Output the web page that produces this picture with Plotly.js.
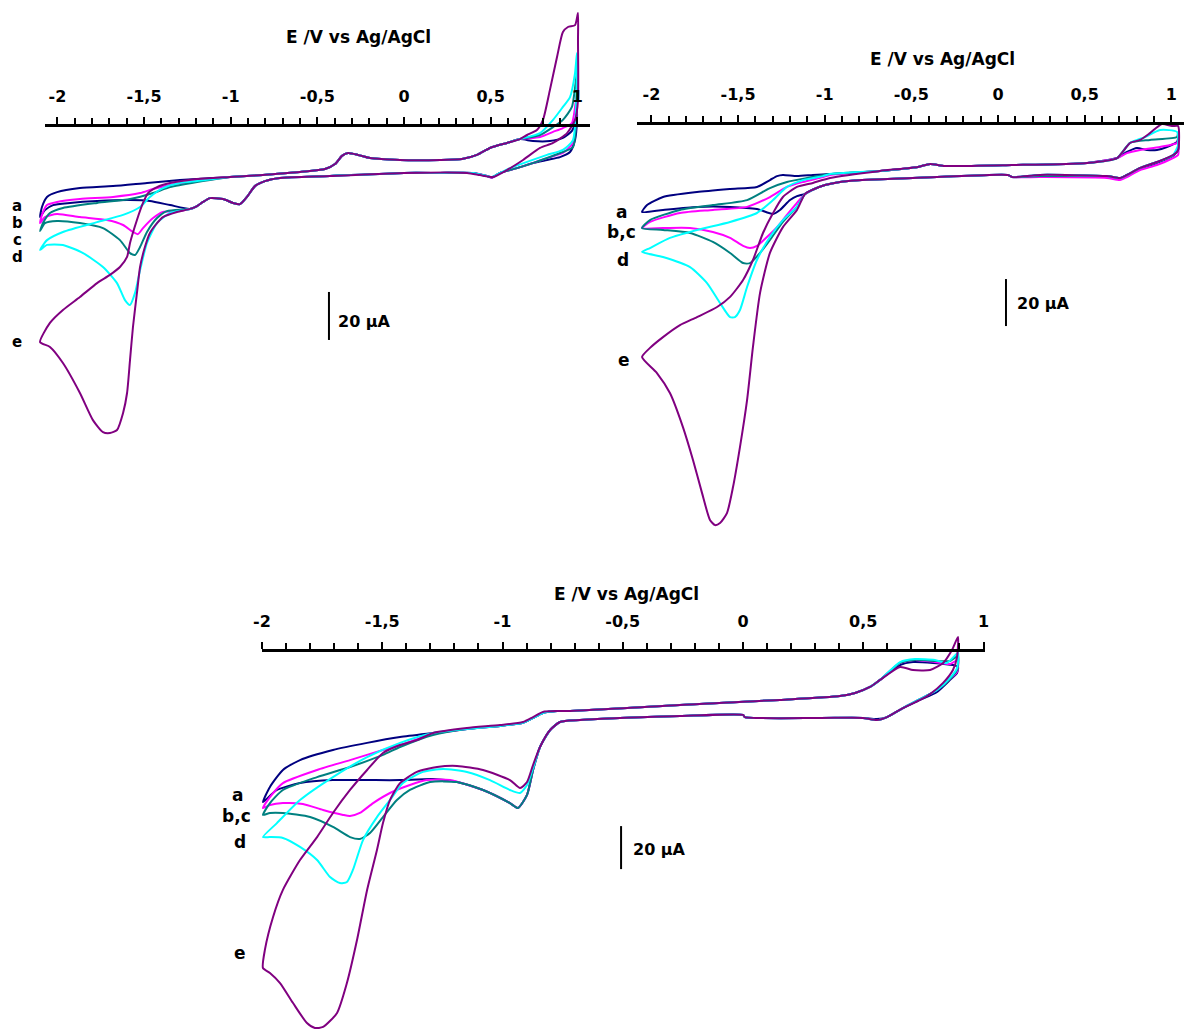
<!DOCTYPE html>
<html><head><meta charset="utf-8">
<script src="https://cdn.plot.ly/plotly-3.0.1.min.js"></script>
<style>html,body{margin:0;padding:0;background:#fff}#chart{width:1184px;height:1029px}</style>
</head><body><div id="chart"></div>
<script>
// ---------- Data: potential E (V vs Ag/AgCl) and current I (µA), in sweep order ----------
// Panel 1 (top left)
const p1_a_E = [0, -0.427, -0.716, -0.802, -0.860, -0.906, -0.946, -0.987, -1.044, -1.119, -1.160, -1.194, -1.235, -1.350, -1.466, -1.581, -1.771, -1.927, -2.025, -2.072, -2.100, -2.089, -2.060, -2.002, -1.870, -1.679, -1.483, -1.293, -1.004, -0.814, -0.600, -0.456, -0.398, -0.358, -0.323, -0.265, -0.196, -0.023, 0.208, 0.335, 0.421, 0.496, 0.594, 0.669, 0.744, 0.842, 0.917, 0.969, 0.993, 0.998, 0.998, 0.987, 0.958, 0.900, 0.825, 0.744, 0.652, 0.554, 0.508, 0.479, 0.398, 0.208, 0];
const p1_a_I = [-3.3, -4.6, -5.4, -6.7, -8.8, -13.3, -16.3, -15.8, -14.2, -13.8, -15.4, -17.1, -18.3, -16.7, -15, -14.6, -15, -15.8, -16.7, -18.8, -21.7, -17.5, -13.3, -11.3, -9.6, -8.8, -7.5, -6.3, -5, -4.2, -2.9, -1.7, 0.4, 3.8, 5, 4.2, 2.9, 2.1, 2.1, 2.5, 4.2, 7.1, 9.2, 10.8, 10, 10, 11.3, 14.2, 19.6, 23.8, 17.9, 10.4, 5.4, 3.3, 2.1, 0.8, -1.3, -3.3, -5, -4.6, -3.3, -3.3, -3.3];
const p1_b_E = [0, -0.427, -0.716, -0.802, -0.860, -0.906, -0.946, -0.987, -1.044, -1.119, -1.160, -1.194, -1.235, -1.310, -1.391, -1.448, -1.506, -1.535, -1.564, -1.621, -1.714, -1.870, -2.002, -2.072, -2.100, -2.089, -2.060, -2.002, -1.870, -1.679, -1.523, -1.448, -1.350, -1.194, -1.004, -0.814, -0.600, -0.456, -0.398, -0.358, -0.323, -0.265, -0.196, -0.023, 0.208, 0.335, 0.421, 0.496, 0.594, 0.669, 0.785, 0.860, 0.917, 0.969, 0.998, 0.998, 0.975, 0.917, 0.842, 0.744, 0.652, 0.554, 0.508, 0.479, 0.398, 0.208, 0];
const p1_b_I = [-3.3, -4.6, -5.4, -6.7, -8.8, -13.3, -16.3, -15.8, -14.2, -13.8, -15.4, -17.1, -18.3, -19.2, -19.6, -22.1, -26.3, -28.8, -27.9, -25, -22.9, -21.7, -20.4, -21.7, -24.2, -20.8, -16.7, -15.4, -14.2, -13.3, -11.7, -10, -8.3, -6.7, -5, -4.2, -2.9, -1.7, 0.4, 3.8, 5, 4.2, 2.9, 2.1, 2.1, 2.5, 4.2, 7.1, 9.2, 10.8, 11.7, 13.8, 15.4, 17.5, 30.4, 22.9, 9.2, 5, 3.3, 0.8, -1.3, -3.3, -5.4, -4.6, -3.3, -3.3, -3.3];
const p1_c_E = [0, -0.427, -0.716, -0.802, -0.860, -0.906, -0.946, -0.987, -1.044, -1.119, -1.160, -1.194, -1.235, -1.368, -1.425, -1.483, -1.523, -1.552, -1.581, -1.639, -1.737, -1.870, -2.002, -2.072, -2.100, -2.083, -2.043, -1.968, -1.771, -1.581, -1.448, -1.350, -1.194, -1.004, -0.814, -0.600, -0.456, -0.398, -0.358, -0.323, -0.265, -0.196, -0.023, 0.208, 0.335, 0.421, 0.496, 0.594, 0.669, 0.785, 0.860, 0.917, 0.969, 0.998, 0.998, 0.975, 0.900, 0.825, 0.744, 0.652, 0.554, 0.508, 0.479, 0.398, 0.208, 0];
const p1_c_I = [-3.3, -4.6, -5.4, -6.7, -8.8, -13.3, -16.3, -15.8, -14.2, -13.8, -15.4, -17.1, -18.3, -19.2, -22.1, -27.9, -34.2, -37.5, -36.7, -31.3, -26.3, -24.2, -23.3, -24.2, -27.5, -24.2, -20, -17.9, -15.8, -14.2, -11.7, -9.2, -7.1, -5, -4.2, -2.9, -1.7, 0.4, 3.8, 5, 4.2, 2.9, 2.1, 2.1, 2.5, 4.2, 7.1, 9.2, 10.8, 12.5, 15.8, 18.8, 24.2, 38.3, 29.2, 7.5, 5, 2.9, 0.8, -1.3, -3.3, -5.2, -4.6, -3.3, -3.3, -3.3];
const p1_d_E = [0, -0.427, -0.716, -0.802, -0.860, -0.906, -0.946, -0.987, -1.044, -1.119, -1.160, -1.194, -1.235, -1.275, -1.350, -1.425, -1.483, -1.523, -1.552, -1.581, -1.610, -1.656, -1.737, -1.852, -1.968, -2.060, -2.100, -2.060, -1.968, -1.771, -1.621, -1.523, -1.466, -1.391, -1.293, -1.194, -1.004, -0.814, -0.600, -0.456, -0.398, -0.358, -0.323, -0.265, -0.196, -0.023, 0.208, 0.335, 0.421, 0.496, 0.594, 0.669, 0.785, 0.860, 0.917, 0.958, 0.987, 0.998, 0.998, 0.975, 0.917, 0.825, 0.710, 0.612, 0.554, 0.508, 0.479, 0.398, 0.208, 0];
const p1_d_I = [-3.3, -4.6, -5.4, -6.7, -8.8, -13.3, -16.3, -15.8, -14.2, -13.8, -15.4, -17.1, -18.3, -18.8, -20, -24.2, -32.5, -43.8, -53.3, -58.3, -56.3, -49.2, -42.5, -36.7, -33.3, -33.3, -35.4, -31.3, -27.9, -23.8, -20.8, -17.5, -13.3, -9.6, -7.5, -6.7, -5, -4.2, -2.9, -1.7, 0.4, 3.8, 5, 4.2, 2.9, 2.1, 2.1, 2.5, 4.2, 7.1, 9.2, 10.8, 13.3, 18.8, 24.2, 28.3, 38.3, 46.7, 39.6, 10.4, 6.3, 4.2, 1.3, -1.3, -3.3, -5, -4.6, -3.3, -3.3, -3.3];
const p1_e_E = [0, -0.427, -0.716, -0.802, -0.860, -0.906, -0.946, -0.987, -1.044, -1.119, -1.160, -1.194, -1.235, -1.310, -1.391, -1.425, -1.466, -1.495, -1.523, -1.541, -1.564, -1.581, -1.598, -1.621, -1.656, -1.697, -1.737, -1.795, -1.870, -1.968, -2.043, -2.100, -2.043, -1.968, -1.870, -1.771, -1.697, -1.639, -1.598, -1.581, -1.541, -1.506, -1.477, -1.425, -1.350, -1.194, -1.004, -0.814, -0.600, -0.456, -0.398, -0.358, -0.323, -0.265, -0.196, -0.023, 0.208, 0.335, 0.421, 0.496, 0.594, 0.669, 0.710, 0.767, 0.802, 0.842, 0.883, 0.917, 0.946, 0.987, 1.004, 1.004, 1.004, 0.987, 0.941, 0.860, 0.785, 0.687, 0.594, 0.514, 0.439, 0.364, 0];
const p1_e_I = [-3.3, -4.6, -5.4, -6.7, -8.8, -13.3, -16.3, -15.8, -14.2, -13.8, -15.4, -17.1, -18.3, -19.6, -21.7, -24.2, -28.3, -34.2, -42.5, -53.3, -67.5, -81.3, -95, -103.3, -110.4, -111.7, -111.3, -106.3, -95, -82.5, -75.8, -73.8, -65.8, -60.4, -55, -49.2, -45.8, -42.5, -38.3, -32.5, -22.9, -15.8, -11.7, -9.2, -7.5, -5.8, -5, -4.2, -2.9, -1.7, 0.4, 3.8, 5, 4.2, 2.9, 2.1, 2.1, 2.5, 4.2, 7.1, 9.2, 10.8, 12.5, 14.6, 18.8, 31.3, 45, 55.4, 57.5, 58.3, 63.3, 52.1, 27.1, 18.8, 13.3, 9.2, 7.1, 2.1, -2.1, -5, -4.2, -3.3, -3.3];

// Panel 2 (top right)
const p2_a_E = [0.081, 0.058, -0.352, -0.785, -0.912, -0.998, -1.073, -1.114, -1.160, -1.200, -1.258, -1.298, -1.391, -1.546, -1.737, -1.933, -2.054, -2.025, -1.933, -1.737, -1.546, -1.391, -1.316, -1.275, -1.241, -1.160, -1.068, -0.969, -0.681, -0.462, -0.392, -0.306, 0.081, 0.514, 0.687, 0.744, 0.802, 0.860, 0.917, 0.975, 1.033, 1.039, 1.039, 1.010, 0.917, 0.820, 0.744, 0.704, 0.629, 0.242, 0.081];
const p2_a_I = [-3, -2.1, -3, -4.3, -5.1, -6.4, -8.5, -10.2, -11.1, -12.8, -17, -18.7, -16.6, -15.7, -15.7, -17, -17.9, -14.9, -11.5, -9.4, -8.1, -7.2, -4.3, -2.6, -2.1, -2.6, -2.1, -1.7, -0.4, 1.3, 2.6, 1.7, 2.1, 3, 5.1, 7.7, 9.4, 8.5, 8.5, 9.8, 11.9, 13.2, 8.5, 6, 3, 0.4, -2.1, -3.4, -2.6, -2.1, -3];
const p2_b_E = [0.081, 0.058, -0.352, -0.785, -0.912, -0.998, -1.073, -1.114, -1.160, -1.218, -1.275, -1.333, -1.391, -1.431, -1.471, -1.546, -1.645, -1.777, -1.933, -2.054, -2.008, -1.835, -1.645, -1.448, -1.316, -1.218, -1.125, -1.010, -0.969, -0.681, -0.462, -0.392, -0.306, 0.081, 0.514, 0.687, 0.744, 0.820, 0.935, 1.033, 1.039, 1.039, 1.010, 0.917, 0.820, 0.744, 0.704, 0.629, 0.242, 0.081];
const p2_b_I = [-3, -2.1, -3, -4.3, -5.1, -6.4, -8.5, -10.2, -14, -19.1, -24.3, -28.5, -32.3, -33.2, -32.3, -28.9, -26.4, -24.7, -24.7, -24.7, -22.1, -18.3, -17, -15.7, -11.5, -7.2, -5.1, -3, -2.1, -0.4, 1.3, 2.6, 1.7, 2.1, 3, 5.1, 7.2, 8.5, 9.8, 11.5, 12.8, 6.4, 5.1, 2.1, 0, -3, -4.3, -3.4, -3, -3];
const p2_c_E = [0.081, 0.058, -0.352, -0.785, -0.912, -0.998, -1.073, -1.114, -1.160, -1.241, -1.316, -1.373, -1.431, -1.471, -1.546, -1.645, -1.777, -1.933, -2.054, -2.008, -1.835, -1.645, -1.448, -1.316, -1.218, -1.102, -0.969, -0.681, -0.462, -0.392, -0.306, 0.081, 0.514, 0.687, 0.762, 0.877, 1.033, 1.039, 1.039, 1.004, 0.917, 0.820, 0.744, 0.704, 0.629, 0.242, 0.081];
const p2_c_I = [-3, -2.1, -3, -4.3, -5.1, -6.4, -8.5, -10.2, -15.7, -22.1, -29.8, -35.3, -39.6, -39.6, -35.3, -30.6, -26.8, -25.5, -24.7, -21.3, -17, -14.9, -12.8, -7.7, -5.1, -3.4, -1.7, -0.4, 1.3, 2.6, 1.7, 2.1, 3, 5.1, 11.5, 12.8, 14, 15.7, 8.5, 6, 3.4, 0.9, -2.1, -3.4, -2.6, -2.6, -3];
const p2_d_E = [0.081, 0.058, -0.352, -0.785, -0.912, -0.998, -1.073, -1.114, -1.160, -1.241, -1.316, -1.391, -1.448, -1.489, -1.518, -1.546, -1.604, -1.679, -1.777, -1.933, -2.054, -2.008, -1.893, -1.737, -1.546, -1.391, -1.298, -1.218, -1.125, -1.010, -0.969, -0.681, -0.462, -0.392, -0.306, 0.081, 0.514, 0.687, 0.762, 0.848, 0.935, 1.033, 1.039, 1.010, 0.917, 0.820, 0.744, 0.704, 0.629, 0.242, 0.081];
const p2_d_I = [-3, -2.1, -3, -4.3, -5.1, -6.4, -8.5, -10.2, -15.7, -21.3, -28.5, -38.3, -49.8, -59.6, -62.6, -62.6, -56.6, -48.1, -41.3, -37, -34.9, -33.2, -28.9, -25.5, -22.1, -18.3, -12.8, -7.2, -4.3, -2.6, -1.7, -0.4, 1.3, 2.6, 1.7, 2.1, 3, 5.1, 11.5, 14, 17, 16.2, 10.6, 6.4, 3.4, 0.9, -2.1, -3.4, -2.6, -2.1, -3];
const p2_e_E = [0.081, 0.058, -0.352, -0.785, -0.912, -0.998, -1.073, -1.114, -1.160, -1.241, -1.316, -1.373, -1.414, -1.448, -1.489, -1.529, -1.564, -1.604, -1.633, -1.662, -1.708, -1.760, -1.818, -1.893, -1.968, -2.054, -2.008, -1.933, -1.835, -1.737, -1.621, -1.546, -1.471, -1.414, -1.356, -1.298, -1.241, -1.160, -1.068, -0.969, -0.681, -0.462, -0.392, -0.306, 0.081, 0.514, 0.687, 0.762, 0.820, 0.877, 0.946, 1.004, 1.039, 1.039, 1.010, 0.917, 0.820, 0.744, 0.704, 0.629, 0.242, 0.081];
const p2_e_I = [-3, -2.1, -3, -4.3, -5.1, -6.4, -8.5, -10.2, -17, -24.3, -35.3, -52.3, -75.3, -97.9, -117.9, -134.9, -146, -150.2, -151.1, -148.9, -137.4, -123.4, -109.4, -94.9, -86.4, -79.6, -75.7, -71.1, -66, -62.6, -58.3, -54, -46.8, -38.3, -26.8, -18.3, -11.5, -7.2, -5.5, -3.4, -0.4, 1.3, 2.6, 1.7, 2.1, 3, 5.1, 11.5, 12.8, 15.7, 19.6, 18.7, 18.7, 8.5, 6.4, 3.4, 0.9, -2.1, -3.4, -2.6, -2.1, -3];

// Panel 3 (bottom)
const p3_a_E = [0.008, 0, -0.262, -0.678, -0.761, -0.802, -0.844, -0.873, -0.898, -0.936, -0.969, -1.081, -1.189, -1.289, -1.426, -1.563, -1.705, -1.842, -1.938, -1.996, -1.967, -1.913, -1.842, -1.705, -1.563, -1.426, -1.289, -1.148, -1.010, -0.915, -0.873, -0.832, -0.773, -0.719, -0.262, 0.154, 0.403, 0.466, 0.528, 0.570, 0.653, 0.707, 0.790, 0.873, 0.894, 0.890, 0.861, 0.807, 0.736, 0.665, 0.599, 0.557, 0.499, 0.320, 0.008];
const p3_a_I = [-3.3, -2.3, -2.8, -4.7, -5.6, -9.3, -17.2, -27.9, -39.5, -45.6, -43.3, -37.2, -33.5, -32.1, -32.6, -32.6, -32.6, -34, -37.2, -42.8, -35.8, -27.9, -23.3, -18.6, -15.3, -12.6, -10.7, -8.8, -7.4, -6, -3.7, -1.4, -0.5, -0.5, 2.3, 4.7, 6.5, 7.9, 10.7, 14, 20.9, 22.3, 21.9, 20.9, 20, 17.2, 14, 8.4, 4.7, 0.9, -3.3, -4.2, -3.7, -3.7, -3.3];
const p3_b_E = [0.008, 0, -0.262, -0.678, -0.761, -0.802, -0.844, -0.873, -0.898, -0.936, -0.969, -1.081, -1.218, -1.314, -1.385, -1.468, -1.538, -1.593, -1.634, -1.663, -1.746, -1.830, -1.913, -1.967, -1.996, -1.967, -1.913, -1.771, -1.634, -1.497, -1.426, -1.289, -1.148, -1.010, -0.915, -0.873, -0.832, -0.773, -0.719, -0.262, 0.154, 0.403, 0.466, 0.528, 0.570, 0.653, 0.715, 0.798, 0.861, 0.894, 0.890, 0.861, 0.807, 0.736, 0.665, 0.599, 0.557, 0.499, 0.320, 0.008];
const p3_b_I = [-3.3, -2.3, -2.8, -4.7, -5.6, -9.3, -17.2, -27.9, -39.5, -45.6, -43.3, -37.2, -32.6, -32.6, -34.9, -38.6, -43.3, -47.9, -49.3, -48.8, -46.5, -43.7, -43.3, -44.2, -45.6, -40.5, -34, -27.9, -23.3, -18.6, -16.3, -11.2, -8.8, -7.4, -6, -3.7, -1.4, -0.5, -0.5, 2.3, 4.7, 6.5, 7.9, 10.7, 14, 21.9, 23.3, 22.3, 21.4, 23.3, 17.7, 14.4, 9.3, 5.1, 0.9, -3.3, -4.7, -3.7, -3.7, -3.3];
const p3_c_E = [0.008, 0, -0.262, -0.678, -0.761, -0.802, -0.844, -0.873, -0.898, -0.936, -0.969, -1.081, -1.189, -1.301, -1.385, -1.439, -1.497, -1.551, -1.593, -1.634, -1.705, -1.800, -1.913, -1.967, -1.996, -1.967, -1.913, -1.771, -1.634, -1.497, -1.426, -1.289, -1.148, -1.010, -0.915, -0.873, -0.832, -0.773, -0.719, -0.262, 0.154, 0.403, 0.466, 0.528, 0.570, 0.653, 0.715, 0.798, 0.861, 0.894, 0.890, 0.861, 0.807, 0.736, 0.665, 0.599, 0.557, 0.499, 0.320, 0.008];
const p3_c_I = [-3.3, -2.3, -2.8, -4.7, -5.6, -9.3, -17.2, -27.9, -39.5, -45.6, -43.3, -37.2, -33.5, -33.5, -37.2, -41.9, -49.8, -57.2, -60, -59.1, -54.4, -49.8, -47.9, -47.9, -48.8, -43.3, -37.2, -31.2, -26.5, -20.9, -17.2, -11.6, -8.8, -7.4, -6, -3.7, -1.4, -0.5, -0.5, 2.3, 4.7, 6.5, 7.9, 10.7, 14, 21.9, 23.3, 22.8, 22.8, 25.1, 18.6, 14.4, 9.3, 5.1, 0.9, -3.3, -4.7, -3.7, -3.7, -3.3];
const p3_d_E = [0.008, 0, -0.262, -0.678, -0.761, -0.802, -0.844, -0.873, -0.898, -0.927, -0.969, -1.052, -1.148, -1.247, -1.331, -1.414, -1.468, -1.522, -1.580, -1.622, -1.647, -1.676, -1.717, -1.771, -1.842, -1.913, -1.967, -1.996, -1.938, -1.842, -1.705, -1.563, -1.426, -1.289, -1.148, -1.010, -0.915, -0.873, -0.832, -0.773, -0.719, -0.262, 0.154, 0.403, 0.466, 0.528, 0.570, 0.653, 0.715, 0.798, 0.848, 0.894, 0.890, 0.861, 0.807, 0.736, 0.665, 0.599, 0.557, 0.499, 0.320, 0.008];
const p3_d_I = [-3.3, -2.3, -2.8, -4.7, -5.6, -9.3, -17.2, -27, -34.9, -38.6, -37.2, -32.6, -28.8, -27.4, -28.8, -34, -41.9, -49.8, -60.5, -74.4, -80, -80.5, -77.7, -69.8, -63.7, -59.5, -59.1, -59.1, -52.6, -41.9, -31.2, -21.9, -15.3, -10.7, -8.8, -7.4, -6, -3.7, -1.4, -0.5, -0.5, 2.3, 4.7, 6.5, 7.9, 10.7, 14, 22.3, 23.7, 23.3, 21.9, 26.5, 19.5, 14.9, 9.3, 5.1, 0.9, -3.3, -4.7, -3.7, -3.7, -3.3];
const p3_e_E = [0.008, 0, -0.262, -0.678, -0.761, -0.802, -0.844, -0.873, -0.898, -0.927, -0.969, -1.081, -1.189, -1.272, -1.356, -1.426, -1.468, -1.497, -1.522, -1.563, -1.605, -1.647, -1.688, -1.746, -1.780, -1.813, -1.871, -1.925, -1.967, -1.996, -1.988, -1.954, -1.913, -1.842, -1.771, -1.705, -1.634, -1.563, -1.497, -1.426, -1.356, -1.289, -1.148, -1.010, -0.915, -0.873, -0.832, -0.773, -0.719, -0.262, 0.154, 0.403, 0.466, 0.528, 0.570, 0.653, 0.707, 0.778, 0.832, 0.869, 0.894, 0.890, 0.873, 0.832, 0.778, 0.736, 0.665, 0.599, 0.557, 0.499, 0.320, 0.008];
const p3_e_I = [-3.3, -2.3, -2.8, -4.7, -5.6, -9.3, -17.2, -25.6, -33.5, -36.3, -32.6, -27.9, -26, -26.5, -28.8, -34, -41.9, -52.6, -65.1, -83.7, -107, -127, -140.9, -147.4, -147.9, -145.6, -136.3, -127, -122.3, -120, -111.6, -96.3, -83.7, -69.8, -59.1, -47.9, -37.2, -27.9, -20, -16.3, -14, -10.7, -8.4, -7, -5.6, -3.3, -0.9, -0.5, -0.5, 2.3, 4.7, 6.5, 7.9, 10.7, 14, 20, 18.6, 18.6, 21.9, 27.9, 34, 24.7, 18.6, 12.6, 7.4, 4.7, 0.9, -3.3, -4.7, -3.7, -3.7, -3.3];

// Tick labels and curve labels
const tickVals = [-2, -1.5, -1, -0.5, 0, 0.5, 1];
const tickText = ['-2', '-1,5', '-1', '-0,5', '0', '0,5', '1'];
const curveNames = ['a', 'b', 'c', 'd', 'e'];
const curveColors = ['#000080', '#FF00FF', '#008080', '#00FFFF', '#800080'];
const axisTitle = 'E /V vs Ag/AgCl';
const scaleText = '20 µA';
const scaleSize = 20; // µA

// ---------- Build traces ----------
const panels = [
  {xa: 'x',  ya: 'y',  E: [p1_a_E, p1_b_E, p1_c_E, p1_d_E, p1_e_E], I: [p1_a_I, p1_b_I, p1_c_I, p1_d_I, p1_e_I]},
  {xa: 'x2', ya: 'y2', E: [p2_a_E, p2_b_E, p2_c_E, p2_d_E, p2_e_E], I: [p2_a_I, p2_b_I, p2_c_I, p2_d_I, p2_e_I]},
  {xa: 'x3', ya: 'y3', E: [p3_a_E, p3_b_E, p3_c_E, p3_d_E, p3_e_E], I: [p3_a_I, p3_b_I, p3_c_I, p3_d_I, p3_e_I]}
];
const traces = [];
panels.forEach(p => {
  for (let k = 0; k < 5; k++) {
    traces.push({type: 'scatter', mode: 'lines', x: p.E[k], y: p.I[k], xaxis: p.xa, yaxis: p.ya,
      name: curveNames[k], line: {color: curveColors[k], width: 2, shape: 'spline', smoothing: 0.6},
      hoverinfo: 'skip', showlegend: false});
  }
});
// empty traces so the visible potential axes get drawn
[['x4', 'y'], ['x5', 'y2'], ['x6', 'y3']].forEach(([xa, ya]) => {
  traces.push({type: 'scatter', mode: 'lines', x: [], y: [], xaxis: xa, yaxis: ya, hoverinfo: 'skip', showlegend: false});
});

const FONT = 'DejaVu Sans, Verdana, sans-serif';
const W = 1184, H = 1029;
const fx = px => px / W;
const fy = py => 1 - py / H;

function potAxis(d0, d1, r0, r1, posPy) {
  return {
    domain: [fx(d0), fx(d1)], range: [r0, r1], anchor: 'free', position: fy(posPy), side: 'top',
    showline: true, linecolor: '#000', linewidth: 3,
    ticks: 'outside', ticklen: 7, tickwidth: 2, tickcolor: '#000',
    tickmode: 'array', tickvals: tickVals, ticktext: tickText,
    tickfont: {family: FONT, size: 16, color: '#000', weight: 'bold'},
    ticklabelstandoff: 9,
    minor: {ticks: 'outside', ticklen: 6, tickwidth: 2, tickcolor: '#000', tick0: 0, dtick: 0.1, showgrid: false},
    showgrid: false, zeroline: false, fixedrange: true
  };
}
const hidden = {visible: false, showgrid: false, zeroline: false, fixedrange: true};

const layout = {
  width: W, height: H, margin: {l: 0, r: 0, t: 0, b: 0},
  paper_bgcolor: '#fff', plot_bgcolor: 'rgba(0,0,0,0)', showlegend: false,
  font: {family: FONT, color: '#000'},
  xaxis:  Object.assign({}, hidden, {domain: [fx(0), fx(600)], range: [-2.3312, 1.1310], anchor: 'y'}),
  yaxis:  Object.assign({}, hidden, {domain: [fy(460), 1], range: [-122.917, 68.75], anchor: 'x'}),
  xaxis2: Object.assign({}, hidden, {domain: [fx(605), 1], range: [-2.26774, 1.07328], anchor: 'y2'}),
  yaxis2: Object.assign({}, hidden, {domain: [fy(545), 1], range: [-159.574, 72.340], anchor: 'x2'}),
  xaxis3: Object.assign({}, hidden, {domain: [fx(215), fx(1000)], range: [-2.19543, 1.06861], anchor: 'y3'}),
  yaxis3: Object.assign({}, hidden, {domain: [0, fy(560)], range: [-148.372, 69.767], anchor: 'x3'}),
  xaxis4: potAxis(45, 590, -2.07155, 1.07328, 125),
  xaxis5: potAxis(637, 1184, -2.08309, 1.07328, 123),
  xaxis6: potAxis(262, 985, -2.0, 1.00624, 650),
  shapes: [],
  annotations: []
};

// axis titles
[[358, 37], [942, 59], [626, 594]].forEach(([px, py]) => {
  layout.annotations.push({xref: 'paper', yref: 'paper', x: fx(px), y: fy(py), xanchor: 'center', yanchor: 'middle',
    text: axisTitle, showarrow: false, font: {family: FONT, size: 17, color: '#000', weight: 'bold'}});
});

// scale bars (20 µA) drawn in data units
const bars = [
  {xr: 'x', yr: 'y', E: -0.433, I0: -52.9, lblE: -0.39, lblI: -65},
  {xr: 'x2', yr: 'y2', E: 0.046, I0: -46.4, lblE: 0.098, lblI: -56.6},
  {xr: 'x3', yr: 'y3', E: -0.507, I0: -54, lblE: -0.466, lblI: -64.7}
];
bars.forEach(b => {
  layout.shapes.push({type: 'line', xref: b.xr, yref: b.yr, x0: b.E, x1: b.E, y0: b.I0, y1: b.I0 - scaleSize,
    line: {color: '#000', width: 2}});
  layout.annotations.push({xref: b.xr, yref: b.yr, x: b.lblE, y: b.lblI, xanchor: 'left', yanchor: 'middle',
    text: scaleText, showarrow: false, font: {family: FONT, size: 16, color: '#000', weight: 'bold'}});
});

// curve letters
const letters = [
  {xr: 'x', yr: 'y', size: 15, items: [['a', -2.233, -17.1], ['b', -2.233, -24.2], ['c', -2.233, -31.2], ['d', -2.233, -38.5], ['e', -2.233, -73.75]]},
  {xr: 'x2', yr: 'y2', size: 17, items: [['a', -2.170, -17.9], ['b,c', -2.170, -26.4], ['d', -2.164, -38.3], ['e', -2.158, -80.9]]},
  {xr: 'x3', yr: 'y3', size: 17, items: [['a', -2.100, -39.5], ['b,c', -2.108, -49.3], ['d', -2.091, -61.4], ['e', -2.091, -113]]}
];
letters.forEach(g => g.items.forEach(([t, e, i]) => {
  layout.annotations.push({xref: g.xr, yref: g.yr, x: e, y: i, xanchor: 'center', yanchor: 'middle', text: t,
    showarrow: false, borderpad: 0, font: {family: FONT, size: g.size, color: '#000', weight: 'bold'}});
}));

Plotly.newPlot('chart', traces, layout, {displayModeBar: false, staticPlot: true});
</script></body></html>
